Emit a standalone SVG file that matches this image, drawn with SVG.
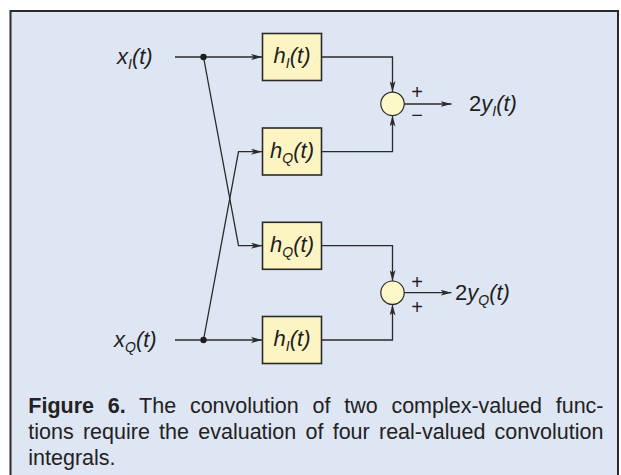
<svg xmlns="http://www.w3.org/2000/svg" width="621" height="475" viewBox="0 0 621 475">
<style>
.box{fill:#fcf4c2;stroke:#2a2a2a;stroke-width:1.6}
.sum{fill:#fdf8c8;stroke:#2a2a2a;stroke-width:1.2}
.wire{fill:none;stroke:#2a2a2a;stroke-width:1.3}
.lbl{font-family:"Liberation Sans",Arial,sans-serif;font-size:22px;font-style:italic;fill:#1e1e1e}
.sub{font-size:14px}
.up{font-style:normal}
.sign{font-family:"Liberation Sans",Arial,sans-serif;font-size:20px;fill:#1e1e1e;text-anchor:middle}
.cap{font-family:"Liberation Sans",Arial,sans-serif;font-size:21.5px;fill:#222}
</style>
<defs>
<marker id="arr" viewBox="0 0 11 6" refX="11" refY="3" markerWidth="11" markerHeight="6" markerUnits="userSpaceOnUse" orient="auto">
<path d="M0,0 L11,3 L0,6 L2.8,3 z" fill="#2a2a2a"/>
</marker>
</defs>
<rect x="10.5" y="11" width="607.5" height="480" fill="#dee5f3" stroke="#2a2a2a" stroke-width="2"/>

<g id="connectors">
<path class="wire" d="M175,57 L262,57" marker-end="url(#arr)"/>
<path class="wire" d="M175,340 L262,340" marker-end="url(#arr)"/>
<path class="wire" d="M203.5,57 L238.5,245.7 L262,245.7" marker-end="url(#arr)"/>
<path class="wire" d="M203.5,340 L238.5,151.7 L262,151.7" marker-end="url(#arr)"/>
<path class="wire" d="M322,57 L392.5,57 L392.5,92" marker-end="url(#arr)"/>
<path class="wire" d="M322,151.7 L392.5,151.7 L392.5,115.5" marker-end="url(#arr)"/>
<path class="wire" d="M322,245.7 L392.5,245.7 L392.5,281" marker-end="url(#arr)"/>
<path class="wire" d="M322,340 L392.5,340 L392.5,304.5" marker-end="url(#arr)"/>
<path class="wire" d="M404,104 L451.5,104" marker-end="url(#arr)" stroke="#444"/>
<path class="wire" d="M404,292.7 L451.5,292.7" marker-end="url(#arr)" stroke="#555"/>
<circle cx="203.5" cy="57" r="3.2" fill="#1e1e1e"/>
<circle cx="203.5" cy="340" r="3.2" fill="#1e1e1e"/>
</g>

<g id="in_xI"><text class="lbl" x="117" y="64">x<tspan class="sub" dy="5">I</tspan><tspan dy="-5">(t)</tspan></text></g>
<g id="in_xQ"><text class="lbl" x="114" y="347">x<tspan class="sub" dy="5">Q</tspan><tspan dy="-5">(t)</tspan></text></g>

<g id="box1"><rect class="box" x="262.5" y="33.5" width="59" height="47"/>
<text class="lbl" x="292" y="63" text-anchor="middle">h<tspan class="sub" dy="5">I</tspan><tspan dy="-5">(t)</tspan></text></g>
<g id="box2"><rect class="box" x="262.5" y="128" width="59" height="47"/>
<text class="lbl" x="292" y="158" text-anchor="middle">h<tspan class="sub" dy="5">Q</tspan><tspan dy="-5">(t)</tspan></text></g>
<g id="box3"><rect class="box" x="262.5" y="222.3" width="59" height="47"/>
<text class="lbl" x="292" y="252" text-anchor="middle">h<tspan class="sub" dy="5">Q</tspan><tspan dy="-5">(t)</tspan></text></g>
<g id="box4"><rect class="box" x="262.5" y="316.5" width="59" height="47"/>
<text class="lbl" x="292" y="346" text-anchor="middle">h<tspan class="sub" dy="5">I</tspan><tspan dy="-5">(t)</tspan></text></g>

<g id="sum1"><circle class="sum" cx="392.5" cy="103.8" r="11.7"/>
<text class="sign" x="417" y="99">+</text>
<text class="sign" x="417" y="122">−</text></g>
<g id="sum2"><circle class="sum" cx="392.5" cy="292.7" r="11.7"/>
<text class="sign" x="417" y="289">+</text>
<text class="sign" x="417" y="313.5">+</text></g>

<g id="out_yI"><text class="lbl" x="469" y="111"><tspan class="up">2</tspan>y<tspan class="sub" dy="5">I</tspan><tspan dy="-5">(t)</tspan></text></g>
<g id="out_yQ"><text class="lbl" x="455" y="299.5"><tspan class="up">2</tspan>y<tspan class="sub" dy="5">Q</tspan><tspan dy="-5">(t)</tspan></text></g>

<g id="caption">
<text class="cap" x="28.3" y="413.3" word-spacing="7.8"><tspan font-weight="bold">Figure 6.</tspan> The convolution of two complex-valued func-</text>
<text class="cap" x="28.3" y="439.3" word-spacing="3.27">tions require the evaluation of four real-valued convolution</text>
<text class="cap" x="28.3" y="465">integrals.</text>
</g>
</svg>
